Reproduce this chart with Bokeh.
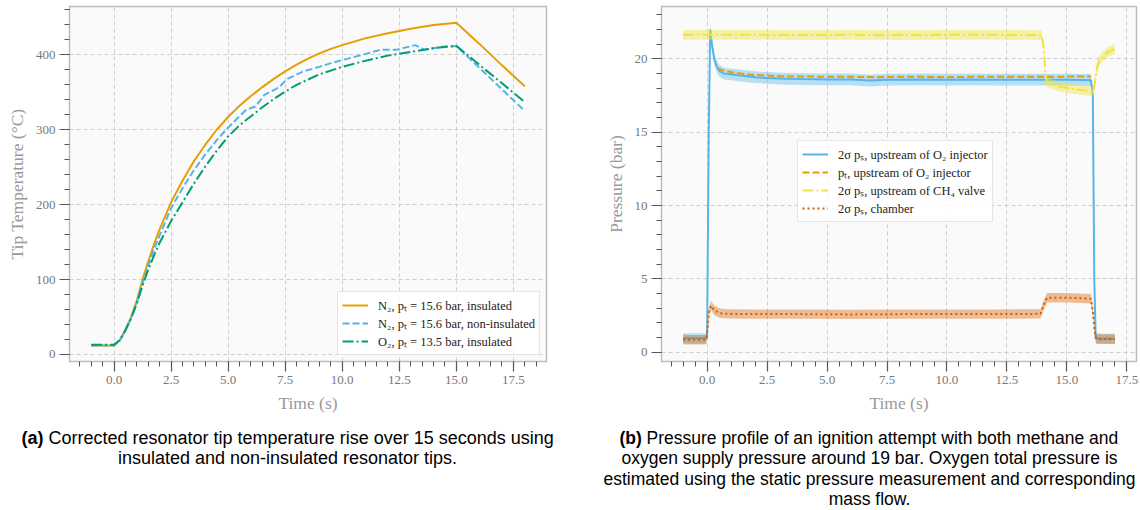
import numpy as np
from bokeh.plotting import figure
from bokeh.layouts import column, row
from bokeh.models import Range1d, FixedTicker, PrintfTickFormatter
from bokeh.embed import file_html
from bokeh.resources import INLINE
from bokeh.core.properties import value

# ---------------- data: (a) resonator tip temperature ----------------
time_a = [-1, -0.5, 0, 0.25, 0.5, 0.75, 1, 1.25, 1.5, 1.75, 2, 2.5, 3, 3.5, 4, 4.5, 5, 5.5, 6,
          6.5, 7, 7.5, 8, 8.5, 9, 9.5, 10, 11, 12, 13, 14, 15, 16, 17, 18]
temp_n2_ins = [12, 12, 12, 19, 33, 50, 72, 100, 124, 147, 167, 203, 232, 258, 280, 300, 317, 332, 345,
               357, 368, 378, 387, 395, 402, 408, 413, 422, 429, 435, 440, 443, 415, 386, 358]
time_b = [-1, -0.5, 0, 0.25, 0.5, 0.75, 1, 1.25, 1.5, 1.75, 2, 2.5, 3, 3.5, 4, 4.5, 5, 5.5, 5.8,
          6.2, 6.6, 7.2, 7.6, 8.3, 9, 9.5, 10, 11, 11.7, 12.4, 12.8, 13.2, 13.6, 14.4, 15, 16, 17, 18]
temp_n2_non = [12, 12, 12, 18, 32, 48, 69, 95, 118, 140, 159, 195, 222, 246, 267, 286, 303, 318, 327,
               331, 347, 356, 368, 378, 384, 389, 393, 401, 407, 407, 410, 413, 407, 411, 412, 383, 354, 325]
temp_o2_ins = [13, 13, 13, 19, 32, 48, 68, 92, 113, 132, 149, 178, 203, 228, 251, 272, 291, 306, 318,
               330, 341, 351, 360, 367, 374, 379, 384, 392, 399, 404, 409, 412, 387, 362, 337]
labels_a = ["N\u2082, p\u209c = 15.6 bar, insulated",
            "N\u2082, p\u209c = 15.6 bar, non-insulated",
            "O\u2082, p\u209c = 13.5 bar, insulated"]

# ---------------- data: (b) pressure profile ----------------
time_o2 = [-1, -0.5, 0.0, 0.07, 0.13, 0.2, 0.3, 0.4, 0.5, 0.7, 1.0, 1.4, 2.0, 2.5, 3.3, 4, 5, 6,
           6.8, 7.5, 9, 10, 11, 12, 13, 14, 15, 16.0, 16.08, 16.14, 16.2, 16.5, 17]
p_o2_static = [0.95, 0.95, 0.95, 15.0, 22.0, 21.0, 20.0, 19.5, 19.2, 19.0, 18.95, 18.86, 18.75, 18.7,
               18.64, 18.62, 18.6, 18.6, 18.52, 18.58, 18.6, 18.58, 18.6, 18.58, 18.58, 18.58, 18.58,
               18.55, 17.5, 5.0, 0.95, 0.92, 0.92]
p_o2_static_2s = [0.35, 0.35, 0.35, 0.4, 0.4, 0.4, 0.4, 0.4, 0.4, 0.4, 0.4, 0.4, 0.4, 0.4,
                  0.4, 0.4, 0.4, 0.4, 0.4, 0.4, 0.4, 0.4, 0.4, 0.4, 0.4, 0.4, 0.4,
                  0.4, 0.4, 0.4, 0.35, 0.35, 0.35]

time_pt = [0.45, 0.7, 1.0, 1.4, 2.0, 2.5, 3.3, 4, 5, 6, 7, 8, 9, 10, 11, 12, 13, 14, 15, 16.0]
p_o2_total = [19.35, 19.2, 19.1, 19.0, 18.9, 18.86, 18.8, 18.8, 18.78, 18.78, 18.75, 18.78, 18.78,
              18.75, 18.78, 18.78, 18.78, 18.78, 18.79, 18.79]

time_ch4 = [-1, 0, 2, 4, 6, 8, 10, 12, 13.95, 14.05, 14.1, 14.17, 14.3, 14.6, 15.0, 15.5, 15.97,
            16.1, 16.18, 16.25, 16.35, 16.53, 16.75, 17.0]
p_ch4 = [21.64, 21.64, 21.64, 21.62, 21.64, 21.62, 21.64, 21.64, 21.62, 20.5, 19.0, 18.4, 18.3,
         18.15, 18.02, 17.9, 17.8, 17.75, 18.5, 19.4, 19.9, 20.22, 20.5, 20.68]
p_ch4_2s = [0.33] * len(time_ch4)

time_ch = [-1, -0.05, 0.02, 0.08, 0.17, 0.3, 0.55, 0.83, 2, 4, 6, 8, 10, 12, 13.9, 14.03, 14.17,
           15, 16.0, 16.1, 16.15, 16.22, 16.5, 17]
p_chamber = [0.85, 0.85, 1.6, 2.75, 3.18, 2.85, 2.66, 2.62, 2.6, 2.6, 2.58, 2.6, 2.6, 2.6, 2.62,
             3.2, 3.72, 3.72, 3.65, 2.5, 1.5, 0.9, 0.9, 0.9]
p_chamber_2s = [0.32] * len(time_ch)
labels_b = ["2\u03c3 p\u209b, upstream of O\u2082 injector",
            "p\u209c, upstream of O\u2082 injector",
            "2\u03c3 p\u209b, upstream of CH\u2084 valve",
            "2\u03c3 p\u209b, chamber"]

x_ticks = [0, 2.5, 5, 7.5, 10, 12.5, 15, 17.5]
x_minor = [v * 0.5 for v in range(-3, 38)]
y_ticks_a = [0, 100, 200, 300, 400]
y_minor_a = list(range(-20, 481, 20))
y_ticks_b = [0, 5, 10, 15, 20]
y_minor_b = list(range(-1, 25))

caption_a = ["(a)", "Corrected resonator tip temperature rise over 15 seconds using",
             "insulated and non-insulated resonator tips."]
caption_b = ["(b)", "Pressure profile of an ignition attempt with both methane and",
             "oxygen supply pressure around 19 bar. Oxygen total pressure is",
             "estimated using the static pressure measurement and corresponding",
             "mass flow."]

# colours (Okabe-Ito)
ORANGE, SKY, GREEN, YELLOW, VERM = "#E69F00", "#56B4E9", "#009E73", "#F0E442", "#D55E00"
SERIF = "Liberation Serif"


def style(p, xt, xm, yt, ym, xfmt, yfmt, xlabel, ylabel):
    p.background_fill_color = "#fafafa"
    p.border_fill_color = "white"
    p.outline_line_color = "#bdbdbd"
    p.outline_line_width = 1.5
    p.xaxis.ticker = FixedTicker(ticks=xt, minor_ticks=xm)
    p.yaxis.ticker = FixedTicker(ticks=yt, minor_ticks=ym)
    p.xaxis.formatter = PrintfTickFormatter(format=xfmt)
    p.yaxis.formatter = PrintfTickFormatter(format=yfmt)
    p.xaxis.axis_label = xlabel
    p.yaxis.axis_label = ylabel
    for ax in (p.xaxis, p.yaxis):
        ax.axis_line_color = None
        ax.major_tick_in = 0
        ax.minor_tick_in = 0
        ax.major_tick_out = 10
        ax.minor_tick_out = 5
        ax.major_tick_line_color = "#555555"
        ax.minor_tick_line_color = "#555555"
        ax.major_tick_line_width = 1.2
        ax.minor_tick_line_width = 1
        ax.major_label_text_font = SERIF
        ax.major_label_text_font_size = "13px"
        ax.major_label_text_color = "#777777"
        ax.major_label_standoff = 4
        ax.axis_label_text_font = SERIF
        ax.axis_label_text_font_style = "normal"
        ax.axis_label_text_font_size = "17.5px"
        ax.axis_label_text_color = "#999999"
        ax.axis_label_standoff = 6
    p.grid.grid_line_color = "#cfcfcf"
    p.grid.grid_line_dash = "4 3"
    p.grid.grid_line_width = 1


def style_legend(p):
    lg = p.legend[0]
    lg.label_text_font = SERIF
    lg.label_text_font_size = "12.5px"
    lg.label_text_color = "#222222"
    lg.border_line_color = "#cccccc"
    lg.border_line_width = 1
    lg.background_fill_color = "white"
    lg.background_fill_alpha = 0.85
    lg.padding = 4
    lg.spacing = 0
    lg.glyph_width = 26
    lg.glyph_height = 18
    lg.label_height = 18
    lg.label_standoff = 10
    lg.margin = 6


# ---------------- figure (a) ----------------
pa = figure(width=600, height=420, output_backend="svg", toolbar_location=None,
            x_range=Range1d(-1.95, 18.95), y_range=Range1d(-9.5, 464.6),
            min_border_left=69, min_border_right=54, min_border_top=6, min_border_bottom=59)
style(pa, x_ticks, x_minor, y_ticks_a, y_minor_a, "%.1f", "%d", "Time (s)", "Tip Temperature (\u00b0C)")
pa.line(time_a, temp_n2_ins, color=ORANGE, line_width=2, legend_label=labels_a[0])
pa.line(time_b, temp_n2_non, color=SKY, line_width=2, line_dash="7 3", legend_label=labels_a[1])
pa.line(time_a, temp_o2_ins, color=GREEN, line_width=2, line_dash="11 3 2 3", legend_label=labels_a[2])
style_legend(pa)
pa.legend.location = "bottom_right"

# ---------------- figure (b) ----------------
pb = figure(width=540, height=420, output_backend="svg", toolbar_location=None,
            x_range=Range1d(-1.9, 17.9), y_range=Range1d(-0.63, 23.57),
            min_border_left=61, min_border_right=4, min_border_top=6, min_border_bottom=59)
style(pb, x_ticks, x_minor, y_ticks_b, y_minor_b, "%.1f", "%d", "Time (s)", "Pressure (bar)")

o2s = np.array(p_o2_static); o2e = np.array(p_o2_static_2s)
ch4 = np.array(p_ch4); ch4e = np.array(p_ch4_2s)
chb = np.array(p_chamber); chbe = np.array(p_chamber_2s)

pb.varea(x=time_o2, y1=o2s - o2e, y2=o2s + o2e, fill_color=SKY, fill_alpha=0.4)
pb.line(time_o2, p_o2_static, color=SKY, line_width=2, legend_label=labels_b[0])
pb.line(time_pt, p_o2_total, color=ORANGE, line_width=2, line_dash="7 3", legend_label=labels_b[1])
pb.varea(x=time_ch4, y1=ch4 - ch4e, y2=ch4 + ch4e, fill_color=YELLOW, fill_alpha=0.45)
pb.line(time_ch4, p_ch4, color=YELLOW, line_width=2, line_dash="11 3 2 3", legend_label=labels_b[2])
pb.varea(x=time_ch, y1=chb - chbe, y2=chb + chbe, fill_color=VERM, fill_alpha=0.4)
pb.line(time_ch, p_chamber, color=VERM, line_width=2, line_dash="2 3", legend_label=labels_b[3])
style_legend(pb)
pb.legend.location = (136, 139)


# ---------------- captions ----------------
def caption_fig(w):
    c = figure(width=w, height=90, output_backend="svg", toolbar_location=None,
               x_range=Range1d(0, w), y_range=Range1d(90, 0), x_axis_type=None, y_axis_type=None,
               min_border=0, outline_line_color=None)
    c.border_fill_color = "white"
    c.background_fill_color = "white"
    return c


CAP_FONT = value("Liberation Sans")
ca = caption_fig(600)
ca.text(x=[21], y=[17], text=[caption_a[0]], text_font=CAP_FONT, text_font_size="18px",
        text_font_style="bold", text_align="left", text_baseline="middle", text_color="black")
ca.text(x=[48], y=[17], text=[caption_a[1]], text_font=CAP_FONT, text_font_size="18px",
        text_align="left", text_baseline="middle", text_color="black")
ca.text(x=[287], y=[37.5], text=[caption_a[2]], text_font=CAP_FONT, text_font_size="18px",
        text_align="center", text_baseline="middle", text_color="black")

cb = caption_fig(540)
cb.text(x=[19], y=[17], text=[caption_b[0]], text_font=CAP_FONT, text_font_size="17.5px",
        text_font_style="bold", text_align="left", text_baseline="middle", text_color="black")
cb.text(x=[46], y=[17], text=[caption_b[1]], text_font=CAP_FONT, text_font_size="17.5px",
        text_align="left", text_baseline="middle", text_color="black")
cb.text(x=[269, 269, 269], y=[37.5, 58, 78.5], text=caption_b[2:], text_font=CAP_FONT,
        text_font_size="17.5px", text_align="center", text_baseline="middle", text_color="black")

layout = column(row(pa, pb), row(ca, cb))
open("out.html", "w").write(file_html(layout, INLINE))
